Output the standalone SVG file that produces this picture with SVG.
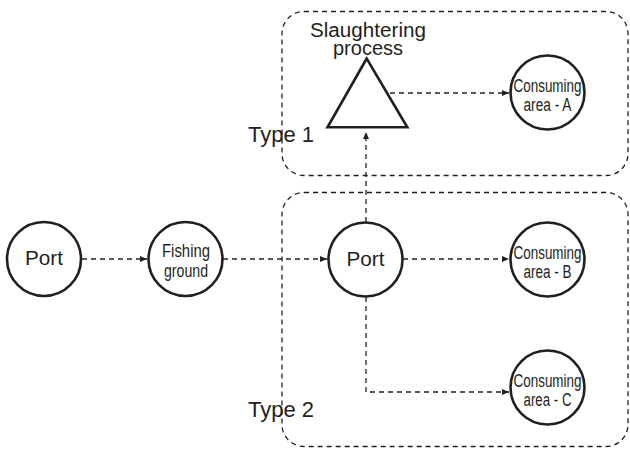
<svg xmlns="http://www.w3.org/2000/svg" width="630" height="450" viewBox="0 0 630 450">
<defs>
<marker id="arr" markerUnits="userSpaceOnUse" markerWidth="8" markerHeight="7" refX="7" refY="3" orient="auto">
<path d="M0,0 L7,3 L0,6 z" fill="#231f20"/>
</marker>
<style>
.node{fill:#fff;stroke:#231f20;stroke-width:2.6}
.box{fill:none;stroke:#231f20;stroke-width:1.3;stroke-dasharray:5 4}
.edge{fill:none;stroke:#231f20;stroke-width:1.3;stroke-dasharray:5 4;marker-end:url(#arr)}
text{font-family:"Liberation Sans",Arial,sans-serif;fill:#231f20;text-anchor:middle}
.big{font-size:20px}
.small{font-size:18px}
.type{font-size:22px;text-anchor:start}
</style>
</defs>
<rect fill="#fff" width="630" height="450"/>
<g id="type1">
<rect class="box" x="282" y="11.5" width="346" height="164" rx="22"/>
<text class="type" x="248" y="142">Type 1</text>
</g>
<g id="type2">
<rect class="box" x="282" y="192.5" width="346" height="254" rx="22"/>
<text class="type" x="248" y="417">Type 2</text>
</g>
<g id="connectors">
<line class="edge" x1="82" y1="259" x2="147" y2="259"/>
<line class="edge" x1="223" y1="259" x2="327" y2="259"/>
<line class="edge" x1="366" y1="222" x2="366" y2="132"/>
<line class="edge" x1="390" y1="93" x2="509" y2="93"/>
<line class="edge" x1="403" y1="259" x2="509" y2="259"/>
<polyline class="edge" points="366,297 366,392 509,392"/>
</g>
<g id="port1">
<circle class="node" cx="44" cy="259" r="37"/>
<text class="big" x="44" y="265" textLength="38" lengthAdjust="spacingAndGlyphs">Port</text>
</g>
<g id="fishing">
<circle class="node" cx="185.5" cy="259" r="37"/>
<text class="small" x="186" y="257" textLength="48" lengthAdjust="spacingAndGlyphs">Fishing</text>
<text class="small" x="186" y="277" textLength="44" lengthAdjust="spacingAndGlyphs">ground</text>
</g>
<g id="port2">
<circle class="node" cx="365.5" cy="259.5" r="37"/>
<text class="big" x="365.5" y="265.5" textLength="38" lengthAdjust="spacingAndGlyphs">Port</text>
</g>
<g id="slaughter">
<polygon class="node" points="366.7,58.5 327.5,127.3 407.3,127.3" stroke-linejoin="miter"/>
<text class="big" x="368" y="36.5" textLength="116" lengthAdjust="spacingAndGlyphs">Slaughtering</text>
<text class="big" x="368" y="55">process</text>
</g>
<g id="areaA">
<circle class="node" cx="547.5" cy="92.5" r="37"/>
<text class="small" x="547.5" y="92" textLength="68" lengthAdjust="spacingAndGlyphs">Consuming</text>
<text class="small" x="547.5" y="111" textLength="48" lengthAdjust="spacingAndGlyphs">area - A</text>
</g>
<g id="areaB">
<circle class="node" cx="547.5" cy="259.5" r="37"/>
<text class="small" x="547.5" y="259" textLength="68" lengthAdjust="spacingAndGlyphs">Consuming</text>
<text class="small" x="547.5" y="278" textLength="48" lengthAdjust="spacingAndGlyphs">area - B</text>
</g>
<g id="areaC">
<circle class="node" cx="547.5" cy="387.5" r="37"/>
<text class="small" x="547.5" y="387" textLength="68" lengthAdjust="spacingAndGlyphs">Consuming</text>
<text class="small" x="547.5" y="406" textLength="48" lengthAdjust="spacingAndGlyphs">area - C</text>
</g>
</svg>
